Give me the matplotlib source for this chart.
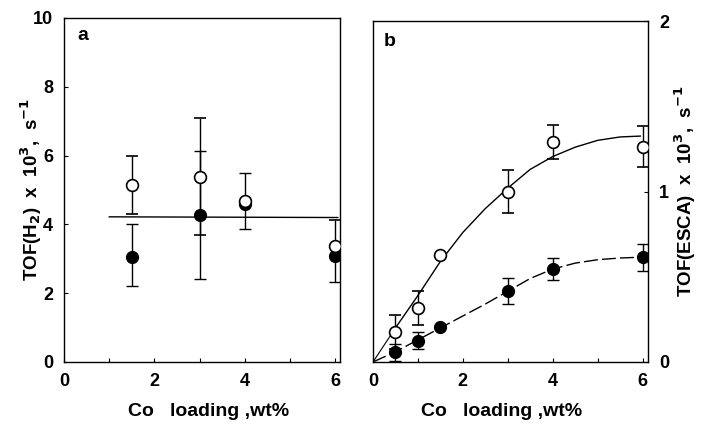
import matplotlib.pyplot as plt

plt.rcParams['font.family'] = ['Liberation Sans', 'DejaVu Sans']
plt.rcParams['font.weight'] = 'bold'
plt.rcParams['axes.labelweight'] = 'bold'
plt.rcParams['mathtext.default'] = 'bf'

# panel a: TOF(H2)
a_x = [1.5, 3, 4, 6]
a_open = [5.15, 5.38, 4.68, 3.37]
a_open_lo = [0.85, 1.7, 0.0, 0.0]
a_open_hi = [0.85, 1.72, 0.0, 0.75]
a_fill = [3.05, 4.28, 4.6, 3.07]
a_fill_lo = [0.85, 1.88, 0.72, 0.75]
a_fill_hi = [0.97, 1.85, 0.88, 0.0]
a_line_x = [1.0, 6.05]
a_line_y = [4.22, 4.2]

# panel b: TOF(ESCA)
b_x = [0.5, 1, 1.5, 3, 4, 6]
b_open = [0.174, 0.315, 0.625, 1.0, 1.29, 1.263]
b_open_err = [0.1, 0.1, 0.0, 0.125, 0.1, 0.12]
b_fill = [0.057, 0.125, 0.203, 0.416, 0.544, 0.614]
b_fill_err = [0.05, 0.05, 0.0, 0.075, 0.065, 0.08]

# fitted curves
b_open_curve_x = [0.5, 1, 1.5, 2, 2.5, 3, 3.5, 4, 4.5, 5, 5.5, 5.95]
b_open_curve_y = [0.2, 0.39, 0.59, 0.76, 0.9, 1.02, 1.13, 1.205, 1.26, 1.3, 1.32, 1.325]
b_open_start_x = [0, 0.5]
b_open_start_y = [0, 0.2]
b_fill_curve_x = [0, 0.5, 1, 1.5, 2, 2.5, 3, 3.5, 4, 4.5, 5, 5.5, 6]
b_fill_curve_y = [0, 0.06, 0.13, 0.2, 0.27, 0.34, 0.415, 0.49, 0.545, 0.58, 0.6, 0.61, 0.615]


def style_axes(ax):
    ax.tick_params(direction='in', length=3, width=0.8, labelsize=13, pad=8)
    for s in ax.spines.values():
        s.set_linewidth(1.0)


def mk_panel_a(fig):
    ax = fig.add_axes([64 / 701, 1 - 362 / 425, 276 / 701, 344 / 425])
    ax.plot(a_line_x, a_line_y, color='black', lw=1.0)
    ax.errorbar(a_x, a_fill, yerr=[a_fill_lo, a_fill_hi], fmt='o', color='black',
                ms=8.5, capsize=4, elinewidth=1.0, capthick=1.0, zorder=3)
    ax.errorbar(a_x, a_open, yerr=[a_open_lo, a_open_hi], fmt='o', color='black',
                mfc='white', mec='black', mew=1.2, ms=8.5, capsize=4,
                elinewidth=1.0, capthick=1.0, zorder=4)
    ax.set_xlim(0, 6.1)
    ax.set_ylim(0, 10)
    ax.set_xticks([0, 1, 2, 3, 4, 5, 6])
    ax.set_xticklabels(['0', '', '2', '', '4', '', '6'])
    ax.set_yticks([0, 2, 4, 6, 8, 10])
    style_axes(ax)
    ax.set_xlabel('Co   loading ,wt%', fontsize=14)
    ax.xaxis.set_label_coords(0.525, -0.118)
    ax.set_ylabel(r'TOF(H$_2$)  x  10$^3$,  s$^{-1}$', fontsize=13.5, labelpad=-8)
    ax.text(0.05, 0.95, 'a', transform=ax.transAxes, fontsize=14,
            va='center', ha='left')


def mk_panel_b(fig):
    ax = fig.add_axes([373 / 701, 1 - 362 / 425, 275 / 701, 341 / 425])
    ax.plot(b_open_curve_x, b_open_curve_y, color='black', lw=1.0)
    ax.plot(b_open_start_x, b_open_start_y, color='black', lw=0.8)
    ax.plot(b_fill_curve_x, b_fill_curve_y, color='black', lw=1.0,
            ls=(0, (10, 3)))
    ax.errorbar(b_x, b_fill, yerr=b_fill_err, fmt='o', color='black',
                ms=8.5, capsize=4, elinewidth=1.0, capthick=1.0, zorder=3)
    ax.errorbar(b_x, b_open, yerr=b_open_err, fmt='o', color='black',
                mfc='white', mec='black', mew=1.2, ms=8.5, capsize=4,
                elinewidth=1.0, capthick=1.0, zorder=4)
    ax.set_xlim(0, 6.12)
    ax.set_ylim(0, 2.0)
    ax.set_xticks([0, 1, 2, 3, 4, 5, 6])
    ax.set_xticklabels(['0', '', '2', '', '4', '', '6'])
    ax.set_yticks([0, 1, 2])
    ax.yaxis.tick_right()
    ax.yaxis.set_label_position('right')
    style_axes(ax)
    ax.set_xlabel('Co   loading ,wt%', fontsize=14)
    ax.xaxis.set_label_coords(0.469, -0.12)
    ax.set_ylabel(r'TOF(ESCA)  x  10$^3$,  s$^{-1}$', fontsize=13.5, labelpad=2)
    ax.text(0.04, 0.94, 'b', transform=ax.transAxes, fontsize=14,
            va='center', ha='left')


def main():
    fig = plt.figure(figsize=(7.01, 4.25), dpi=100)
    mk_panel_a(fig)
    mk_panel_b(fig)
    fig.savefig('out.png', dpi=100)


if __name__ == '__main__':
    main()
